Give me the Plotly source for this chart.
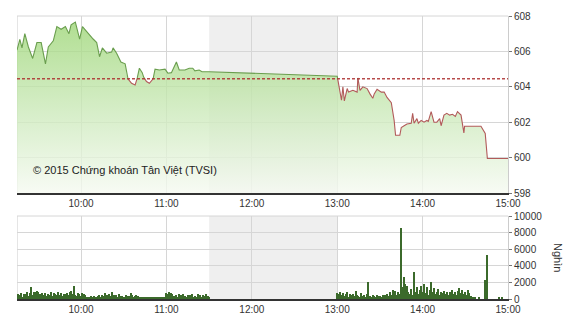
import plotly.graph_objects as go
import pandas as pd

DAY = "2015-06-01 "

# ---- price series (VN-Index intraday) ----
price_times = [
    "09:15:00", "09:17:00", "09:18:30", "09:20:30", "09:23:00", "09:26:00", "09:29:00",
    "09:32:00", "09:35:00", "09:37:00", "09:40:30", "09:43:00", "09:46:00", "09:49:00",
    "09:51:30", "09:53:00", "09:56:00", "09:59:00", "10:01:00", "10:04:00", "10:08:30",
    "10:11:00", "10:13:00", "10:15:00", "10:18:00", "10:21:30", "10:22:30", "10:25:00",
    "10:28:00", "10:31:00", "10:32:30", "10:35:30", "10:38:00", "10:39:30", "10:41:00",
    "10:43:00", "10:44:00", "10:46:00", "10:48:00", "10:50:30", "10:52:00", "10:55:00",
    "10:59:00", "11:01:00", "11:03:30", "11:07:00", "11:09:00", "11:13:00", "11:16:00",
    "11:18:30", "11:20:00", "11:23:00", "11:25:00", "11:30:00",
    "13:00:00", "13:03:00", "13:04:00", "13:05:00", "13:07:00", "13:08:00", "13:11:00",
    "13:14:00", "13:14:30", "13:16:00", "13:18:00", "13:21:00", "13:23:00", "13:25:00",
    "13:26:00", "13:28:00", "13:31:00", "13:33:00", "13:35:00", "13:38:00", "13:40:00",
    "13:41:00", "13:44:00", "13:45:00", "13:47:00", "13:49:00", "13:52:00", "13:53:00",
    "13:54:00", "13:56:00", "13:57:00", "13:59:00", "14:01:00", "14:03:00", "14:04:00",
    "14:06:00", "14:08:00", "14:10:00", "14:12:00", "14:13:00", "14:15:00", "14:17:00",
    "14:19:00", "14:21:00", "14:23:00", "14:24:30", "14:27:00", "14:28:00", "14:29:00",
    "14:29:30", "14:41:00", "14:44:00", "14:45:30", "15:00:00",
]
price_values = [
    606.07, 606.68, 606.20, 607.00, 606.25, 605.60, 606.50,
    606.50, 605.30, 606.25, 606.60, 607.40, 607.25, 607.40,
    607.00, 607.50, 607.66, 606.70, 607.40, 607.10, 606.70,
    606.50, 605.70, 606.20, 605.90, 605.96, 606.20, 605.90,
    605.40, 605.30, 604.50, 604.20, 604.10, 604.50, 605.05,
    604.80, 604.55, 604.30, 604.20, 604.40, 605.00, 604.95,
    605.00, 604.77, 604.80, 605.40, 604.95, 604.95, 605.05,
    605.05, 604.90, 604.95, 604.85, 604.85,
    604.60, 603.24, 604.00, 603.20, 603.90, 603.70, 603.80,
    603.70, 604.50, 603.80, 604.00, 603.90, 603.60, 603.35,
    603.60, 603.86, 603.70, 603.70, 603.40, 603.10, 602.10,
    601.26, 601.26, 601.70, 601.80, 601.90, 601.94, 602.50,
    601.94, 602.20, 601.94, 602.10, 602.00, 602.10, 602.05,
    602.60, 602.00, 602.00, 602.20, 601.80, 602.40, 602.50,
    602.40, 602.45, 602.33, 602.60, 602.40, 601.94, 601.40,
    601.77, 601.77, 601.37, 599.95, 599.95,
]
ref_price = 604.45

# ---- volume (thousand shares, per minute) ----
vol_morning_start = "09:15"
vol_morning = [
    350, 600, 450, 700, 300, 650, 550, 800, 400, 700,
    1400, 500, 850, 900, 950, 800, 600, 450, 700, 500,
    750, 400, 650, 500, 800, 350, 700, 600, 450, 850,
    500, 700, 400, 650, 550, 750, 450, 800, 1000, 600,
    1560, 500, 400, 700, 650, 350, 750, 550, 450, 300,
    300, 250, 350, 300, 400, 250, 300, 350, 450, 250,
    500, 350, 700, 450, 300, 600, 400, 850, 500, 350,
    450, 300, 550, 400, 350, 250, 300, 500, 350, 400,
    700, 450, 300, 350, 500, 350, 250, 300, 200, 250,
    200, 150, 250, 200, 150, 200, 300, 200, 250, 150,
    200, 250, 200, 300, 150, 750, 650, 800, 700, 600,
    400, 350, 500, 300, 600, 450, 250, 550, 400, 300,
    500, 350, 450, 600, 300, 400, 250, 550, 350, 450,
    300, 500, 400, 650, 350, 250,
]
vol_afternoon_start = "13:00"
vol_afternoon = [
    700, 650, 800, 500, 750, 400, 600, 850, 300, 550,
    450, 650, 350, 1000, 500, 400, 300, 700, 350, 450,
    300, 600, 2080, 400, 250, 500, 350, 300, 450, 350,
    400, 300, 500, 350, 450, 600, 400, 800, 500, 1100,
    700, 1000, 450, 900, 600, 8500, 1500, 2600, 1800, 1560,
    900, 600, 1200, 500, 3300, 800, 1400, 600, 1100, 1560,
    900, 1800, 700, 1400, 500, 1100, 2080, 900, 1300, 600,
    800, 1200, 500, 900, 700, 1000, 600, 800, 500, 900,
    700, 1100, 600, 900, 500, 1000, 1300, 700, 1100, 600,
    800, 500, 1100, 700, 400, 300, 200, 150,
]
vol_late_times = ["14:40", "14:44", "14:45", "14:54", "14:56"]
vol_late = [150, 2300, 5300, 250, 300]

price_ticks = [598, 600, 602, 604, 606, 608]
vol_ticks = [0, 2000, 4000, 6000, 8000, 10000]
copyright_text = "© 2015 Chứng khoán Tân Việt (TVSI)"
vol_unit = "Nghìn"

# ---- build series ----
t = pd.to_datetime([DAY + s for s in price_times])
t0 = t[0]
tn = [(x - t0).total_seconds() for x in t]
p = price_values
n = len(p)

pts = []
for i in range(n):
    pts.append((tn[i], p[i]))
    if i < n - 1 and (p[i] - ref_price) * (p[i + 1] - ref_price) < 0:
        f = (ref_price - p[i]) / (p[i + 1] - p[i])
        pts.append((tn[i] + f * (tn[i + 1] - tn[i]), ref_price))

gx, gy, rx, ry = [], [], [], []
for (a0, v0), (a1, v1) in zip(pts[:-1], pts[1:]):
    above = (v0 + v1) / 2 >= ref_price
    X, Y = (gx, gy) if above else (rx, ry)
    if X and X[-1] == a0:
        X.append(a1); Y.append(v1)
    else:
        if X:
            X.append(None); Y.append(None)
        X.extend([a0, a1]); Y.extend([v0, v1])


def to_time(lst):
    return [None if v is None else t0 + pd.to_timedelta(v, unit="s") for v in lst]


vm_t = pd.date_range(DAY + vol_morning_start, periods=len(vol_morning), freq="min")
va_t = pd.date_range(DAY + vol_afternoon_start, periods=len(vol_afternoon), freq="min")
vl_t = pd.to_datetime([DAY + s for s in vol_late_times])
vol_x = list(vm_t) + list(va_t) + list(vl_t)
vol_y = vol_morning + vol_afternoon + vol_late

fig = go.Figure()

fig.add_trace(go.Scatter(
    x=t, y=p, mode="lines", line=dict(width=0), fill="tozeroy",
    fillgradient=dict(type="vertical", start=598, stop=608,
                      colorscale=[[0, "rgba(246,250,242,0.8)"], [0.45, "rgba(205,234,188,0.8)"],
                                  [1, "rgba(155,213,115,0.8)"]]),
    hoverinfo="skip", xaxis="x", yaxis="y"))

fig.add_trace(go.Scatter(x=to_time(gx), y=gy, mode="lines",
                         line=dict(color="#6a9e4e", width=1.1), connectgaps=False,
                         xaxis="x", yaxis="y"))
fig.add_trace(go.Scatter(x=to_time(rx), y=ry, mode="lines",
                         line=dict(color="#b25a5a", width=1.1), connectgaps=False,
                         xaxis="x", yaxis="y"))

fig.add_trace(go.Bar(x=vol_x, y=vol_y, width=55000, marker=dict(color="#3b6a2b", line=dict(width=0)),
                     xaxis="x2", yaxis="y2"))

xdom = [17 / 570, 508 / 570]
ydom1 = [1 - 193 / 320, 1 - 16 / 320]
ydom2 = [1 - 299 / 320, 1 - 216 / 320]
xrange = [DAY + "09:15", DAY + "15:00"]

common_x = dict(type="date", range=xrange, tickformat="%H:%M", dtick=3600000,
                tick0=DAY + "10:00", showgrid=True, gridcolor="#d6d6d6", gridwidth=1,
                showline=True, linecolor="#333333", linewidth=1.5, ticks="",
                zeroline=False, domain=xdom, automargin=False,
                tickfont=dict(size=10, color="#333"))
common_y = dict(side="right", showgrid=True, gridcolor="#d6d6d6", gridwidth=1,
                ticks="outside", ticklen=3, tickcolor="#777", showline=True,
                linecolor="#cccccc", zeroline=False, automargin=False, tickformat="d",
                tickfont=dict(size=10, color="#333"))

fig.update_layout(
    width=570, height=320, margin=dict(l=0, r=0, t=0, b=0),
    paper_bgcolor="white", plot_bgcolor="white", showlegend=False,
    font=dict(family="Liberation Sans, Arial, sans-serif", size=10, color="#333"),
    xaxis=dict(anchor="y", **common_x),
    xaxis2=dict(anchor="y2", matches="x", **common_x),
    yaxis=dict(domain=ydom1, range=[598, 608], tickvals=price_ticks, anchor="x", **common_y),
    yaxis2=dict(domain=ydom2, range=[0, 10000], tickvals=vol_ticks, anchor="x2", **common_y),
    bargap=0,
)

# lunch break shading
for yr in ["y domain", "y2 domain"]:
    fig.add_shape(type="rect", xref="x", yref=yr, x0=DAY + "11:30", x1=DAY + "13:00",
                  y0=0, y1=1, fillcolor="#efefef", line=dict(width=0), layer="below")
    fig.add_shape(type="line", xref="x", yref=yr, x0=xrange[0], x1=xrange[0], y0=0, y1=1,
                  line=dict(color="#cccccc", width=1), layer="below")
    fig.add_shape(type="line", xref="x", yref=yr, x0=xrange[0], x1=xrange[1], y0=1, y1=1,
                  line=dict(color="#d6d6d6", width=1), layer="below")

# reference price
fig.add_shape(type="line", xref="x domain", yref="y", x0=0, x1=1, y0=ref_price, y1=ref_price,
              line=dict(color="rgba(170,45,45,0.85)", width=1.5, dash="3px,2px"), layer="above")

fig.add_annotation(text=copyright_text, xref="paper", yref="paper", x=31 / 570, y=1 - 170 / 320,
                   xanchor="left", yanchor="middle", showarrow=False,
                   font=dict(size=11, color="#222"))
fig.add_annotation(text=vol_unit, xref="paper", yref="paper", x=558 / 570, y=1 - 257 / 320,
                   xanchor="center", yanchor="middle", showarrow=False, textangle=90,
                   font=dict(size=11, color="#333"))

fig.write_html("out.html")
